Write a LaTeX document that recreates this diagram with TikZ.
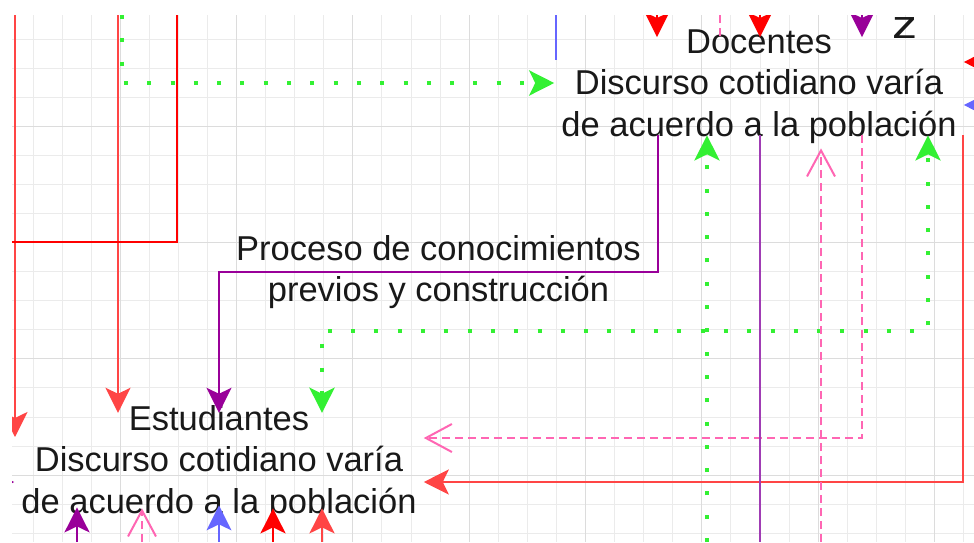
\documentclass[tikz,border=0pt]{standalone}
\usepackage{fontspec}
\setmainfont{Liberation Sans}
\usetikzlibrary{arrows.meta}
\definecolor{redA}{HTML}{FF0000}
\definecolor{redB}{HTML}{FF4545}
\definecolor{purA}{HTML}{990099}
\definecolor{purB}{HTML}{A03CB4}
\definecolor{pinkA}{HTML}{FF66B3}
\definecolor{greenA}{HTML}{33F033}
\definecolor{blueA}{HTML}{6666FF}
\definecolor{gridA}{HTML}{EBEBEB}
\definecolor{gridB}{HTML}{DCDCDC}

\begin{document}
\begin{tikzpicture}[x=1pt,y=-1pt,
txt/.style={align=center,text=black!90,inner xsep=7pt,inner ysep=-8pt,font=\fontsize{34.5}{41.5}\selectfont},
lbl/.style={align=center,text=black!90,inner sep=0pt,font=\fontsize{34.5}{41.5}\selectfont},
-->/.style={-{Stealth[length=25pt,width=25pt,inset=6pt]}},
<-->/.style={{Stealth[length=25pt,width=25pt,inset=6pt]}-{Stealth[length=25pt,width=25pt,inset=6pt]}},
-->o/.style={-{Straight Barb[length=26pt,width=28pt,line width=2pt]}},
redline/.style={draw=redA,line width=2.5pt},
redline2/.style={draw=redB,line width=2.5pt},
purline/.style={draw=purA,line width=2.3pt},
purline2/.style={draw=purB,line width=2.3pt},
pinkline/.style={draw=pinkA,line width=2.5pt,dash pattern=on 8pt off 5pt},
greenline/.style={draw=greenA,line width=4pt,dash pattern=on 4pt off 19.3pt},
blueline/.style={draw=blueA,line width=1.5pt},
]
\fill[white] (0,0) rectangle (974,542);
\clip (12,15) rectangle (974,542);

\begin{scope}[shift={(3.84,9.84)}]
\draw[gridA,line width=0.8pt,xstep=29.08pt,ystep=29.08pt] (8.16,532.16) grid (970.16,5.16);
\draw[gridB,line width=1pt,xstep=116.32pt,ystep=116.32pt] (8.16,532.16) grid (970.16,5.16);
\end{scope}

\node[txt,anchor=base] (doc) at (759,136) {Docentes\\Discurso cotidiano varía\\de acuerdo a la población};
\node[txt,anchor=base] (est) at (219,513) {Estudiantes\\Discurso cotidiano varía\\de acuerdo a la población};
\node[lbl] (zz) at (905,28) {\scalebox{1.45}[1.15]{z}};

\coordinate (t1) at (15,15);
\coordinate (e1) at (15,437);
\coordinate (t2) at (118,15);
\coordinate (t3) at (177,15);
\coordinate (l3) at (12,242);
\coordinate (t4) at (122,15);
\coordinate (t5) at (556,15);
\coordinate (e5) at (556,60);
\coordinate (t6) at (657,15);
\coordinate (t7) at (720,15);
\coordinate (t8) at (760,15);
\coordinate (t9) at (862,15);
\coordinate (r1) at (995,62);
\coordinate (r2) at (995,105);
\coordinate (l1) at (-15,482);
\coordinate (b1) at (760,542);
\coordinate (b2) at (707,542);
\coordinate (b3) at (821,542);
\coordinate (b4) at (77,542);
\coordinate (b5) at (142,542);
\coordinate (b6) at (219,542);
\coordinate (b7) at (273,542);
\coordinate (b8) at (322,542);

% from the top
\draw[redline2,-->] (t1) -- (e1);
\draw[redline2,-->] (t2) -- (est.north -| t2);
\draw[redline] (t3) |- (l3);
\draw[greenline,-->] (t4) |- (doc.west |- 0,83);
\draw[blueline] (t5) -- (e5);
\draw[redline,-->] (t6) -- (doc.north -| t6);
\draw[pinkline] (t7) -- (doc.north -| t7);
\draw[redline,-->] (t8) -- (doc.north -| t8);
\draw[purline,-->] (t9) -- (doc.north -| t9);

% from the right
\draw[redline,-->] (r1) -- (doc.east |- r1);
\draw[blueline,-->] (r2) -- (doc.east |- r2);

% docentes and estudiantes
\draw[purline,-->] (doc.south -| 658,0) -- (658,272) -| node[lbl,pos=.25] (proc) {Proceso de conocimientos\\previos y construcción} (est.north);
\draw[pinkline,-->o] (doc.south -| 862,0) |- (est.east |- 0,438);
\draw[redline2,-->] (doc.south -| 963,0) |- (est.east |- 0,482);
\draw[greenline,<-->] (est.north -| 322,0) -- (322,331) -| (doc.south -| 928,0);

% to and from the bottom
\draw[purline2] (doc.south -| b1) -- (b1);
\draw[greenline,-->] (b2) -- (doc.south -| b2);
\draw[pinkline,-->o,shorten >=13pt] (b3) -- (doc.south -| b3);
\draw[purline,-->,shorten >=-5pt] (b4) -- (est.south -| b4);
\draw[pinkline,-->o,shorten >=-4pt] (b5) -- (est.south -| b5);
\draw[blueline,-->,shorten >=-7pt] (b6) -- (est.south -| b6);
\draw[redline,-->,shorten >=-4pt] (b7) -- (est.south -| b7);
\draw[redline2,-->,shorten >=-4pt] (b8) -- (est.south -| b8);

% from the left
\draw[purline,-->] (l1) -- (est.west |- l1);
\end{tikzpicture}
\end{document}
